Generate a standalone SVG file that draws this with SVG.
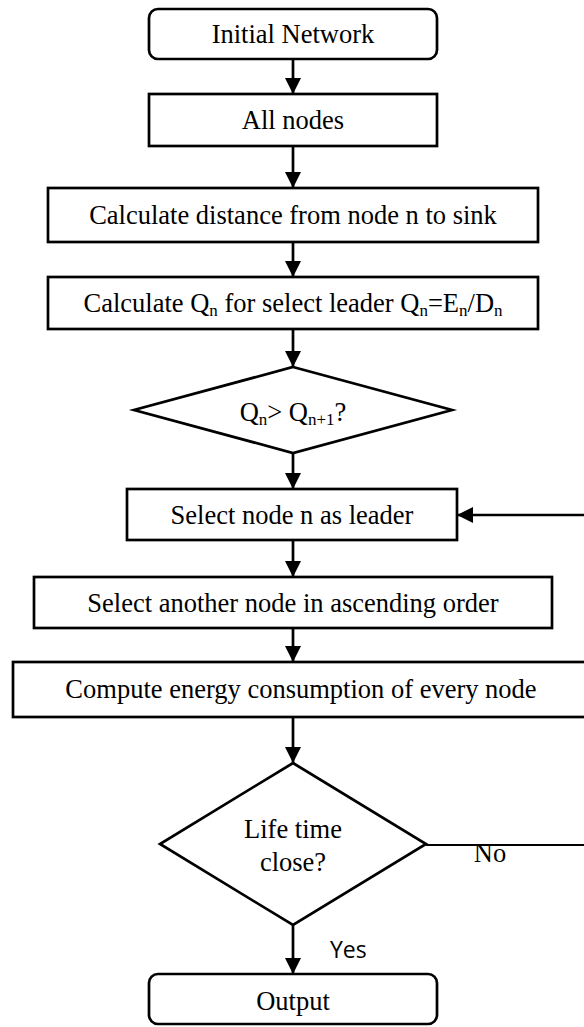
<svg xmlns="http://www.w3.org/2000/svg" width="584" height="1027" viewBox="0 0 584 1027">
  <style>
    .box { fill: #ffffff; stroke: #000000; stroke-width: 2.7; }
    .lbl { font-family: "Liberation Serif", "Times New Roman", serif; font-size: 26.5px; fill: #000000; text-anchor: middle; }
    .sub { font-size: 17px; }
    .yes { font-family: "Open Sans", "Liberation Sans", sans-serif; font-size: 23px; fill: #000000; }
    .flow { fill: none; stroke: #000000; stroke-width: 2.7; }
    .thin { fill: none; stroke: #000000; stroke-width: 1.8; }
  </style>
  <defs>
    <marker id="arrow" viewBox="0 0 16 16" refX="16" refY="8" markerWidth="16" markerHeight="16" markerUnits="userSpaceOnUse" orient="auto">
      <path d="M0,0 L16,8 L0,16 Z" fill="#000000"/>
    </marker>
  </defs>
  <rect width="584" height="1027" fill="#ffffff"/>

  <g id="connectors">
    <line class="flow" x1="293" y1="59" x2="293" y2="94" marker-end="url(#arrow)"/>
    <line class="flow" x1="293" y1="146" x2="293" y2="188" marker-end="url(#arrow)"/>
    <line class="flow" x1="293" y1="242" x2="293" y2="277" marker-end="url(#arrow)"/>
    <line class="flow" x1="293" y1="329" x2="293" y2="367" marker-end="url(#arrow)"/>
    <line class="flow" x1="293" y1="453" x2="293" y2="489" marker-end="url(#arrow)"/>
    <line class="flow" x1="293" y1="540" x2="293" y2="577" marker-end="url(#arrow)"/>
    <line class="flow" x1="293" y1="628" x2="293" y2="662" marker-end="url(#arrow)"/>
    <line class="flow" x1="293" y1="717" x2="293" y2="763" marker-end="url(#arrow)"/>
    <line class="flow" x1="293" y1="925" x2="293" y2="974" marker-end="url(#arrow)"/>
    <!-- loop back: "No" branch leaves right, returns to the leader step -->
    <line class="thin" x1="426" y1="845" x2="590" y2="845"/>
    <line class="flow" x1="590" y1="515" x2="457" y2="515" marker-end="url(#arrow)"/>
  </g>

  <g id="start">
    <rect class="box" x="149" y="9" width="288" height="50" rx="9"/>
    <text class="lbl" x="293" y="43">Initial Network</text>
  </g>
  <g id="all-nodes">
    <rect class="box" x="149" y="94" width="288" height="52"/>
    <text class="lbl" x="293" y="129">All nodes</text>
  </g>
  <g id="distance">
    <rect class="box" x="48" y="188" width="490" height="54"/>
    <text class="lbl" x="293" y="224">Calculate distance from node n to sink</text>
  </g>
  <g id="quality">
    <rect class="box" x="48" y="277" width="490" height="52"/>
    <text class="lbl" x="293" y="312">Calculate Q<tspan class="sub" dy="4">n</tspan><tspan dy="-4"> for select leader Q</tspan><tspan class="sub" dy="4">n</tspan><tspan dy="-4">=E</tspan><tspan class="sub" dy="4">n</tspan><tspan dy="-4">/D</tspan><tspan class="sub" dy="4">n</tspan></text>
  </g>
  <g id="compare">
    <polygon class="box" points="293,367 452,410 293,453 134,410"/>
    <text class="lbl" x="293" y="421">Q<tspan class="sub" dy="4">n</tspan><tspan dy="-4">&gt; Q</tspan><tspan class="sub" dy="4">n+1</tspan><tspan dy="-4">?</tspan></text>
  </g>
  <g id="leader">
    <rect class="box" x="127" y="489" width="330" height="51"/>
    <text class="lbl" x="292" y="524">Select node n as leader</text>
  </g>
  <g id="next-node">
    <rect class="box" x="34" y="577" width="518" height="51"/>
    <text class="lbl" x="293" y="612">Select another node in ascending order</text>
  </g>
  <g id="energy">
    <rect class="box" x="13" y="662" width="576" height="55"/>
    <text class="lbl" x="301" y="698">Compute energy consumption of every node</text>
  </g>
  <g id="lifetime">
    <polygon class="box" points="293,763 426,844 293,925 160,844"/>
    <text class="lbl" x="293" y="838">Life time</text>
    <text class="lbl" x="293" y="871">close?</text>
  </g>
  <g id="output">
    <rect class="box" x="149" y="974" width="288" height="50" rx="9"/>
    <text class="lbl" x="293" y="1010">Output</text>
  </g>

  <g id="branch-labels">
    <text class="lbl" x="490" y="862">No</text>
    <text class="yes" x="330" y="958">Yes</text>
  </g>
</svg>
